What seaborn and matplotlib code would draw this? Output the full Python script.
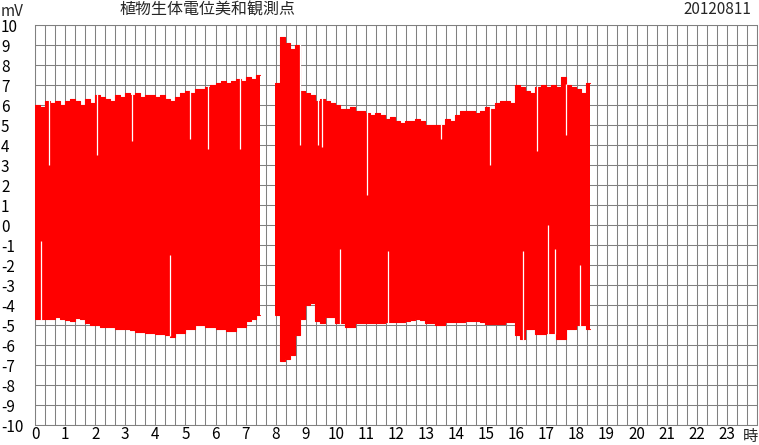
import numpy as np
import pandas as pd
import matplotlib
matplotlib.use('Agg')
import matplotlib.pyplot as plt
import seaborn as sns

title = '植物生体電位美和観測点'
date_label = '20120811'
y_unit = 'mV'
x_unit = '時'

# two recording segments (hours); values are 10-minute max / min in mV
seg_a = (0.0, 7.47)
seg_b = (7.97, 18.45)

upper_a = [6.0, 5.9, 6.2, 6.1, 6.2, 6.0,
           6.2, 6.3, 6.2, 6.0, 6.3, 6.1,
           6.5, 6.4, 6.3, 6.2, 6.5, 6.4,
           6.6, 6.5, 6.6, 6.4, 6.5, 6.5,
           6.4, 6.5, 6.3, 6.2, 6.4, 6.6,
           6.7, 6.6, 6.8, 6.8, 6.9, 7.0,
           7.1, 7.2, 7.1, 7.2, 7.3, 7.2,
           7.4, 7.3, 7.5]
lower_a = [-4.7, -4.7, -4.7, -4.7, -4.6, -4.7,
           -4.75, -4.8, -4.65, -4.7, -4.9, -5.0,
           -5.0, -5.1, -5.1, -5.1, -5.2, -5.2,
           -5.2, -5.25, -5.35, -5.35, -5.4, -5.4,
           -5.45, -5.45, -5.5, -5.6, -5.4, -5.4,
           -5.2, -5.2, -5.0, -5.0, -5.1, -5.1,
           -5.2, -5.2, -5.3, -5.3, -5.1, -5.1,
           -4.8, -4.7, -4.5]
upper_b = [7.1, 9.4, 9.1, 8.8, 9.0, 6.7,
           6.6, 6.5, 6.2, 6.3, 6.2, 6.1,
           6.0, 5.8, 5.8, 5.9, 5.7, 5.7,
           5.6, 5.5, 5.6, 5.5, 5.3, 5.4,
           5.2, 5.1, 5.2, 5.2, 5.3, 5.2,
           5.0, 5.0, 5.0, 5.0, 5.3, 5.2,
           5.5, 5.7, 5.7, 5.7, 5.6, 5.7,
           5.9, 5.8, 6.1, 6.2, 6.2, 6.1,
           7.0, 6.9, 6.7, 6.6, 6.9, 7.0,
           6.9, 7.0, 6.9, 7.4, 7.0, 6.9,
           6.8, 6.6, 7.1]
lower_b = [-4.5, -6.8, -6.7, -6.5, -5.5, -4.7,
           -4.0, -3.9, -4.8, -4.9, -4.6, -4.6,
           -4.9, -4.9, -5.1, -5.1, -4.9, -4.9,
           -4.9, -4.9, -4.9, -4.9, -4.85, -4.85,
           -4.85, -4.85, -4.8, -4.75, -4.7, -4.75,
           -4.9, -4.9, -5.0, -5.0, -4.85, -4.85,
           -4.85, -4.85, -4.8, -4.8, -4.8, -4.85,
           -4.95, -4.95, -4.95, -4.95, -4.85, -4.85,
           -5.5, -5.7, -5.2, -5.2, -5.45, -5.45,
           -5.4, -5.4, -5.7, -5.7, -5.2, -5.2,
           -5.0, -5.0, -5.2]

# single samples whose maximum stayed low / minimum stayed high
low_max_hours = [0.47, 2.07, 3.23, 5.15, 5.75, 6.8, 8.8, 9.4, 9.53, 11.03, 13.49, 15.12, 16.68, 17.64]
low_max_mv = [3.0, 3.5, 4.2, 4.3, 3.8, 3.8, 4.0, 4.0, 3.9, 1.5, 4.3, 3.0, 3.7, 4.5]
high_min_hours = [0.2, 4.48, 10.13, 11.73, 16.21, 17.04, 17.28, 18.1]
high_min_mv = [-0.8, -1.5, -1.2, -1.3, -1.3, 0.0, -1.2, -2.0]

hour_ticks = list(range(24))
mv_ticks = list(range(-10, 11))


def segment_frame(seg, upper, lower):
    start, end = seg
    t = start + np.arange(len(upper) + 1) / 6.0
    t[-1] = end
    return pd.DataFrame({'hour': t,
                         'upper': list(upper) + [upper[-1]],
                         'lower': list(lower) + [lower[-1]]})


segments = [segment_frame(seg_a, upper_a, lower_a),
            segment_frame(seg_b, upper_b, lower_b)]


def envelope_at(hour, col):
    for df in segments:
        if df['hour'].iloc[0] <= hour < df['hour'].iloc[-1]:
            i = np.searchsorted(df['hour'].values, hour, side='right') - 1
            return df[col].iloc[i]
    return np.nan


sns.set_style('white')
plt.rcParams['font.family'] = ['Noto Sans CJK JP', 'DejaVu Sans']

W, H = 759, 445
fig = plt.figure(figsize=(W / 100, H / 100), dpi=100)
ax = fig.add_axes([35 / W, 20 / H, 722 / W, 400 / H])

red = '#ff0000'
for df in segments:
    ax.fill_between(df['hour'], df['lower'], df['upper'], step='post',
                    color=red, lw=0, zorder=3)
    for col in ['upper', 'lower']:
        sns.lineplot(data=df, x='hour', y=col, ax=ax, color=red, lw=0.8,
                     drawstyle='steps-post', zorder=3)

# white notches where a sample did not reach the envelope
tops = [envelope_at(h, 'upper') for h in low_max_hours]
ax.vlines(low_max_hours, low_max_mv, np.array(tops) + 0.05, color='white', lw=0.9, zorder=4)
bots = [envelope_at(h, 'lower') for h in high_min_hours]
ax.vlines(high_min_hours, np.array(bots) - 0.05, high_min_mv, color='white', lw=0.9, zorder=4)

ax.set_xlim(0, 24)
ax.set_ylim(-10, 10)
ax.set_xticks(hour_ticks)
ax.set_xticks(np.arange(0, 24 * 3 + 1) / 3, minor=True)
ax.set_yticks(mv_ticks)
ax.set_xticklabels([str(h) for h in hour_ticks])
ax.set_yticklabels([str(v) for v in mv_ticks])
ax.grid(which='both', color='#808080', lw=0.75, zorder=1)
ax.set_axisbelow(True)
for s in ax.spines.values():
    s.set_color('#808080')
    s.set_linewidth(0.75)
ax.set_xlabel('')
ax.set_ylabel('')
ax.tick_params(axis='both', which='both', length=0, labelsize=11, colors='black')
ax.tick_params(axis='x', pad=1)
ax.tick_params(axis='y', pad=24.5)
for lab in ax.get_yticklabels():
    lab.set_horizontalalignment('left')

fig.text(1 / W, 1 - 11 / H, y_unit, fontsize=11, va='center', ha='left')
fig.text(120 / W, 1 - 10 / H, title, fontsize=11.5, va='center', ha='left')
fig.text(751 / W, 1 - 10 / H, date_label, fontsize=11, va='center', ha='right')
fig.text(750 / W, 1 - 436 / H, x_unit, fontsize=11, va='center', ha='center')

fig.savefig('out.png', dpi=100)
